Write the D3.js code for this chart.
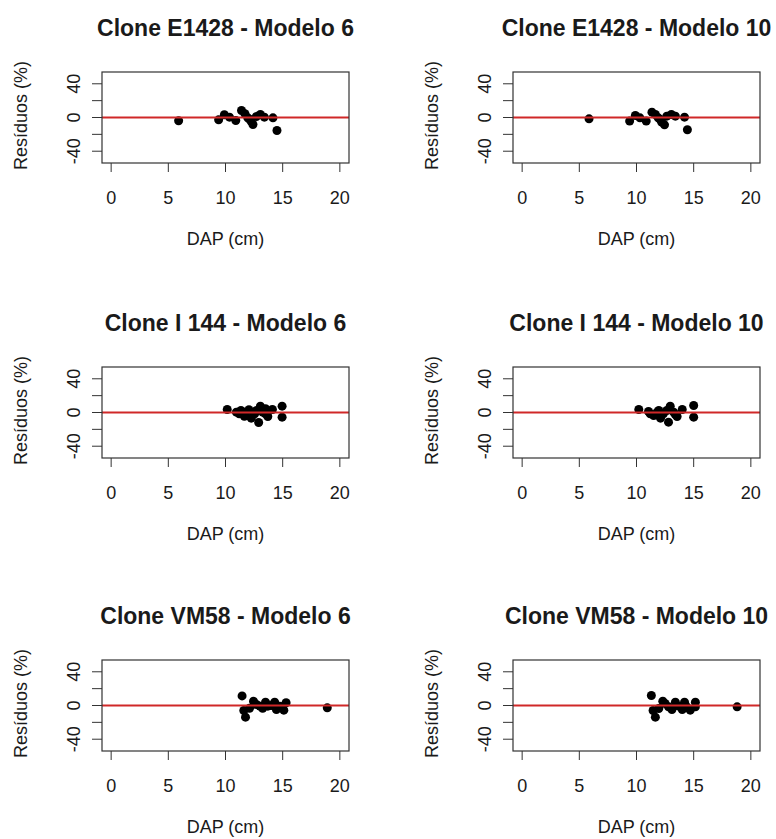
<!DOCTYPE html>
<meta charset="utf-8">
<title>Resíduos por clone e modelo</title>
<style>
    body {
        margin: 0;
        background: #fff;
        font-family: "Liberation Sans", Arial, sans-serif;
    }

    text {
        fill: #1a1a1a;
    }

    .title {
        font-size: 23px;
        font-weight: bold;
    }

    .tick-label, .axis-title {
        font-size: 18px;
    }
</style>

<body>
    <svg width="776" height="839"></svg>

    <script src="https://d3js.org/d3.v7.min.js"></script>
    <script>
        // Data: DAP (cm) and residuals (%)
        const dapE1428m6 = [5.9, 9.4, 9.9, 10.35, 10.9, 11.4, 11.7, 11.95, 12.1, 12.25, 12.4, 12.7, 13.05, 13.4, 14.15, 14.5];
        const resE1428m6 = [-3.9, -2.8, 3.2, 0.4, -3.6, 8.3, 4.4, -0.4, -2, -4.7, -8.3, 1.2, 3.6, 0.4, -0.4, -15.4];

        const dapE1428m10 = [5.85, 9.4, 9.9, 10.3, 10.85, 11.35, 11.65, 11.9, 12.05, 12.2, 12.45, 12.65, 13.05, 13.4, 14.2, 14.45];
        const resE1428m10 = [-1.6, -4.3, 2.4, -0.4, -4.3, 6.3, 3.6, -0.4, -2, -5.5, -8.7, 1.6, 3.6, 1.6, 0.4, -14.6];

        const dapI144m6 = [10.15, 10.95, 11.2, 11.35, 11.65, 11.8, 12.05, 12.25, 12.55, 12.7, 12.9, 13.05, 13.25, 13.5, 13.5, 13.7, 14.1, 14.95, 14.95];
        const resI144m6 = [3.6, 0.4, -1.6, 2.4, -4.4, 0.4, 3.2, -6.7, -1.6, 2.4, -11.9, 7.5, 0.4, 4.4, -1.5, -4.7, 3.6, 7.5, -5.5];

        const dapI144m10 = [10.2, 11.05, 11.2, 11.5, 11.8, 11.95, 12.1, 12.35, 12.65, 12.8, 12.95, 13.25, 13.4, 13.55, 14.0, 15.0, 15.0];
        const resI144m10 = [3.6, 1.2, -1.6, -3.6, 0.4, 2.4, -6.7, -1.6, 2.4, -11.5, 7.5, 0.4, -2.5, -4.7, 3.6, 8.3, -5.5];

        const dapVM58m6 = [11.45, 11.6, 11.75, 12.1, 12.45, 12.7, 13.0, 13.25, 13.5, 13.7, 14.0, 14.3, 14.45, 14.75, 15.1, 15.3, 18.9];
        const resVM58m6 = [11.4, -5.9, -13.8, -3.2, 5.1, 1.2, -0.8, -3.2, 4.0, -0.8, 0, 4.0, -4.7, -0.8, -5.5, 3.2, -2.8];

        const dapVM58m10 = [11.3, 11.45, 11.65, 11.95, 12.3, 12.5, 12.8, 13.1, 13.4, 13.7, 14.0, 14.2, 14.4, 14.7, 15.15, 15.15, 18.8];
        const resVM58m10 = [11.9, -5.9, -13.8, -3.6, 5.1, 2.4, -1.6, -4.7, 4.0, -0.8, -4.7, 4.0, -1.6, -5.5, 4.0, -1.6, -1.6];

        const titles = [
            "Clone E1428 - Modelo 6", "Clone E1428 - Modelo 10",
            "Clone I 144 - Modelo 6", "Clone I 144 - Modelo 10",
            "Clone VM58 - Modelo 6", "Clone VM58 - Modelo 10"
        ];
        const xTicks = [0, 5, 10, 15, 20];
        const yTicks = [-40, -20, 0, 20, 40];
        const yTickLabels = [-40, 0, 40];

        const panels = [
            [dapE1428m6, resE1428m6], [dapE1428m10, resE1428m10],
            [dapI144m6, resI144m6], [dapI144m10, resI144m10],
            [dapVM58m6, resVM58m6], [dapVM58m10, resVM58m10]
        ].map(([dap, res], i) => ({
            title: titles[i],
            points: dap.map((d, j) => ({ dap: d, res: res[j] }))
        }));

        const svg = d3.select("svg");

        // layout of the 3 x 2 grid of plot boxes
        const colLeft = [102, 513];
        const rowTop = [72, 367, 660];
        const boxW = 247;
        const boxH = 91;

        panels.forEach((p, i) => {
            const col = i % 2;
            const row = Math.floor(i / 2);
            const g = svg.append("g")
                .attr("transform", `translate(${colLeft[col]},${rowTop[row]})`);

            const x = d3.scaleLinear().domain([-0.8, 20.8]).range([0, boxW]);
            const y = d3.scaleLinear().domain([-54, 54]).range([boxH, 0]);

            // title
            g.append("text")
                .attr("class", "title")
                .attr("x", boxW / 2)
                .attr("y", -36)
                .attr("text-anchor", "middle")
                .text(p.title);

            // x axis ticks and labels
            const xa = g.append("g").attr("transform", `translate(0,${boxH})`);
            xa.selectAll("line")
                .data(xTicks)
                .join("line")
                .attr("x1", d => x(d)).attr("x2", d => x(d))
                .attr("y1", 0).attr("y2", 9)
                .attr("stroke", "#333");
            xa.selectAll("text")
                .data(xTicks)
                .join("text")
                .attr("class", "tick-label")
                .attr("x", d => x(d))
                .attr("y", 41)
                .attr("text-anchor", "middle")
                .text(d => d);

            g.append("text")
                .attr("class", "axis-title")
                .attr("x", boxW / 2)
                .attr("y", boxH + 82)
                .attr("text-anchor", "middle")
                .text("DAP (cm)");

            // y axis ticks and rotated labels
            const ya = g.append("g");
            ya.selectAll("line")
                .data(yTicks)
                .join("line")
                .attr("x1", -10).attr("x2", 0)
                .attr("y1", d => y(d)).attr("y2", d => y(d))
                .attr("stroke", "#333");
            ya.selectAll("text")
                .data(yTickLabels)
                .join("text")
                .attr("class", "tick-label")
                .attr("transform", d => `translate(-28,${y(d)}) rotate(-90)`)
                .attr("text-anchor", "middle")
                .attr("dy", "0.35em")
                .text(d => d);

            g.append("text")
                .attr("class", "axis-title")
                .attr("transform", `translate(-75,${boxH / 2 - 2}) rotate(-90)`)
                .attr("text-anchor", "middle")
                .text("Resíduos (%)");

            // points
            g.append("g")
                .selectAll("circle")
                .data(p.points)
                .join("circle")
                .attr("cx", d => x(d.dap))
                .attr("cy", d => y(d.res))
                .attr("r", 4.5)
                .attr("fill", "#000");

            // zero reference line
            g.append("line")
                .attr("x1", 0).attr("x2", boxW)
                .attr("y1", y(0)).attr("y2", y(0))
                .attr("stroke", "#d02828")
                .attr("stroke-width", 2);

            // box
            g.append("rect")
                .attr("width", boxW)
                .attr("height", boxH)
                .attr("fill", "none")
                .attr("stroke", "#333")
                .attr("stroke-width", 1.2);
        });
    </script>
</body>

</html>
